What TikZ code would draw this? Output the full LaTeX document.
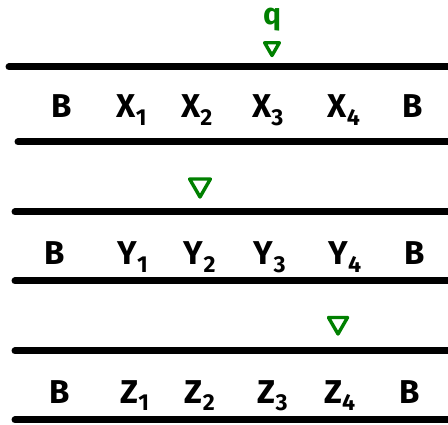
\documentclass[tikz,border=0pt]{standalone}
\usepackage{fontspec}
\setmainfont{Fira Sans}
\usetikzlibrary{shapes.geometric}
\definecolor{headgreen}{RGB}{0,128,0}
\begin{document}
\begin{tikzpicture}[x=1pt,y=-1pt,
  tapeline/.style={line width=7pt,line cap=round,black},
  sym/.style={font=\fontsize{33}{33}\selectfont\bfseries,inner sep=0pt,anchor=base},
  headmark/.style={regular polygon,regular polygon sides=3,shape border rotate=180,draw=headgreen,line width=3.4pt,line join=round,inner sep=0pt},
  statelbl/.style={font=\fontsize{30}{30}\selectfont\bfseries,text=headgreen,inner sep=0pt}]
\useasboundingbox (0,0) rectangle (448,425);
% tape 1
\coordinate (t1a) at (9,67); \coordinate (t1b) at (452,67);
\coordinate (b1a) at (18,142); \coordinate (b1b) at (452,142);
\draw[tapeline] (t1a) -- (t1b);
\draw[tapeline] (b1a) -- (b1b);
\node[statelbl] (q) at (272,20) {q};
\node[headmark,minimum size=17pt] (h1) at (272,47) {};
\node[sym] (a1) at (62,118) {B};
\node[sym] (a2) at (132,118) {X\textsubscript{1}};
\node[sym] (a3) at (197,118) {X\textsubscript{2}};
\node[sym] (a4) at (268,118) {X\textsubscript{3}};
\node[sym] (a5) at (344,118) {X\textsubscript{4}};
\node[sym] (a6) at (413,118) {B};
% tape 2
\coordinate (t2a) at (15,212); \coordinate (t2b) at (452,212);
\coordinate (b2a) at (15,281); \coordinate (b2b) at (452,281);
\draw[tapeline] (t2a) -- (t2b);
\draw[tapeline] (b2a) -- (b2b);
\node[headmark,minimum size=24pt] (h2) at (200,185) {};
\node[sym] (c1) at (55,265) {B};
\node[sym] (c2) at (133,265) {Y\textsubscript{1}};
\node[sym] (c3) at (200,265) {Y\textsubscript{2}};
\node[sym] (c4) at (270,265) {Y\textsubscript{3}};
\node[sym] (c5) at (345,265) {Y\textsubscript{4}};
\node[sym] (c6) at (415,265) {B};
% tape 3
\coordinate (t3a) at (15,351); \coordinate (t3b) at (452,351);
\coordinate (b3a) at (15,420); \coordinate (b3b) at (452,420);
\draw[tapeline] (t3a) -- (t3b);
\draw[tapeline] (b3a) -- (b3b);
\node[headmark,minimum size=22pt] (h3) at (338,323) {};
\node[sym] (e1) at (60,403) {B};
\node[sym] (e2) at (135,403) {Z\textsubscript{1}};
\node[sym] (e3) at (200,403) {Z\textsubscript{2}};
\node[sym] (e4) at (273,403) {Z\textsubscript{3}};
\node[sym] (e5) at (340,403) {Z\textsubscript{4}};
\node[sym] (e6) at (410,403) {B};
\end{tikzpicture}
\end{document}
